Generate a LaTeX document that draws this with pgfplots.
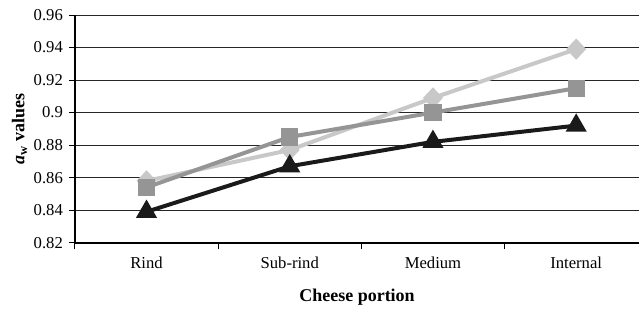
\documentclass[border=0pt]{standalone}
\usepackage{pgfplots}
\pgfplotsset{compat=1.18}
\usepackage{fontspec}
\setmainfont{Liberation Serif}
\definecolor{lgray}{HTML}{C8C8C8}
\definecolor{mgray}{HTML}{959595}
\definecolor{dgray}{HTML}{1A1A1A}
\begin{document}
\begin{tikzpicture}
\begin{axis}[
  scale only axis,
  width=423.75pt, height=171pt,
  xmin=-0.5, xmax=3.44,
  ymin=0.82, ymax=0.96,
  ytick={0.82,0.84,...,0.961},
  yticklabels={0.82,0.84,0.86,0.88,0.9,0.92,0.94,0.96},
  xtick={0,1,2,3},
  xticklabels={Rind,Sub-rind,Medium,Internal},
  minor xtick={-0.5,0.5,1.5,2.5},
  major x tick style={draw=none},
  minor x tick style={black, line width=0.8pt},
  minor tick length=5pt,
  major tick length=4.5pt,
  tick align=outside,
  ytick pos=left,
  xtick pos=bottom,
  y tick style={black, line width=0.7pt},
  ymajorgrids,
  grid style={black!85, line width=0.7pt},
  axis x line*=bottom,
  axis y line*=left,
  axis line style={black, line width=1.2pt},
  tick label style={font=\fontsize{12.5}{14}\selectfont},
  xticklabel style={yshift=-3pt},
  yticklabel style={xshift=-1pt},
  xlabel={\textbf{Cheese portion}},
  ylabel={\textbf{\textit{a}\textsubscript{w} values}},
  label style={font=\fontsize{13.5}{15}\selectfont},
  xlabel style={yshift=-8pt},
  ylabel style={yshift=-2pt},
  clip=false,
]
\addplot[lgray, line width=3pt, mark=diamond*, mark size=5.8pt, mark options={xscale=1.25, solid}] coordinates {(0,0.858) (1,0.877) (2,0.909) (3,0.939)};
\addplot[mgray, line width=3pt, mark=square*, mark size=5pt, mark options={solid}] coordinates {(0,0.854) (1,0.885) (2,0.900) (3,0.915)};
\addplot[dgray, line width=3pt, mark=triangle*, mark size=6.2pt, mark options={solid}] coordinates {(0,0.839) (1,0.867) (2,0.882) (3,0.892)};
\end{axis}
\path[use as bounding box] ([xshift=-56.25pt,yshift=-50.25pt]current axis.south west) rectangle ([xshift=0pt,yshift=11.25pt]current axis.north east);
\end{tikzpicture}
\end{document}
